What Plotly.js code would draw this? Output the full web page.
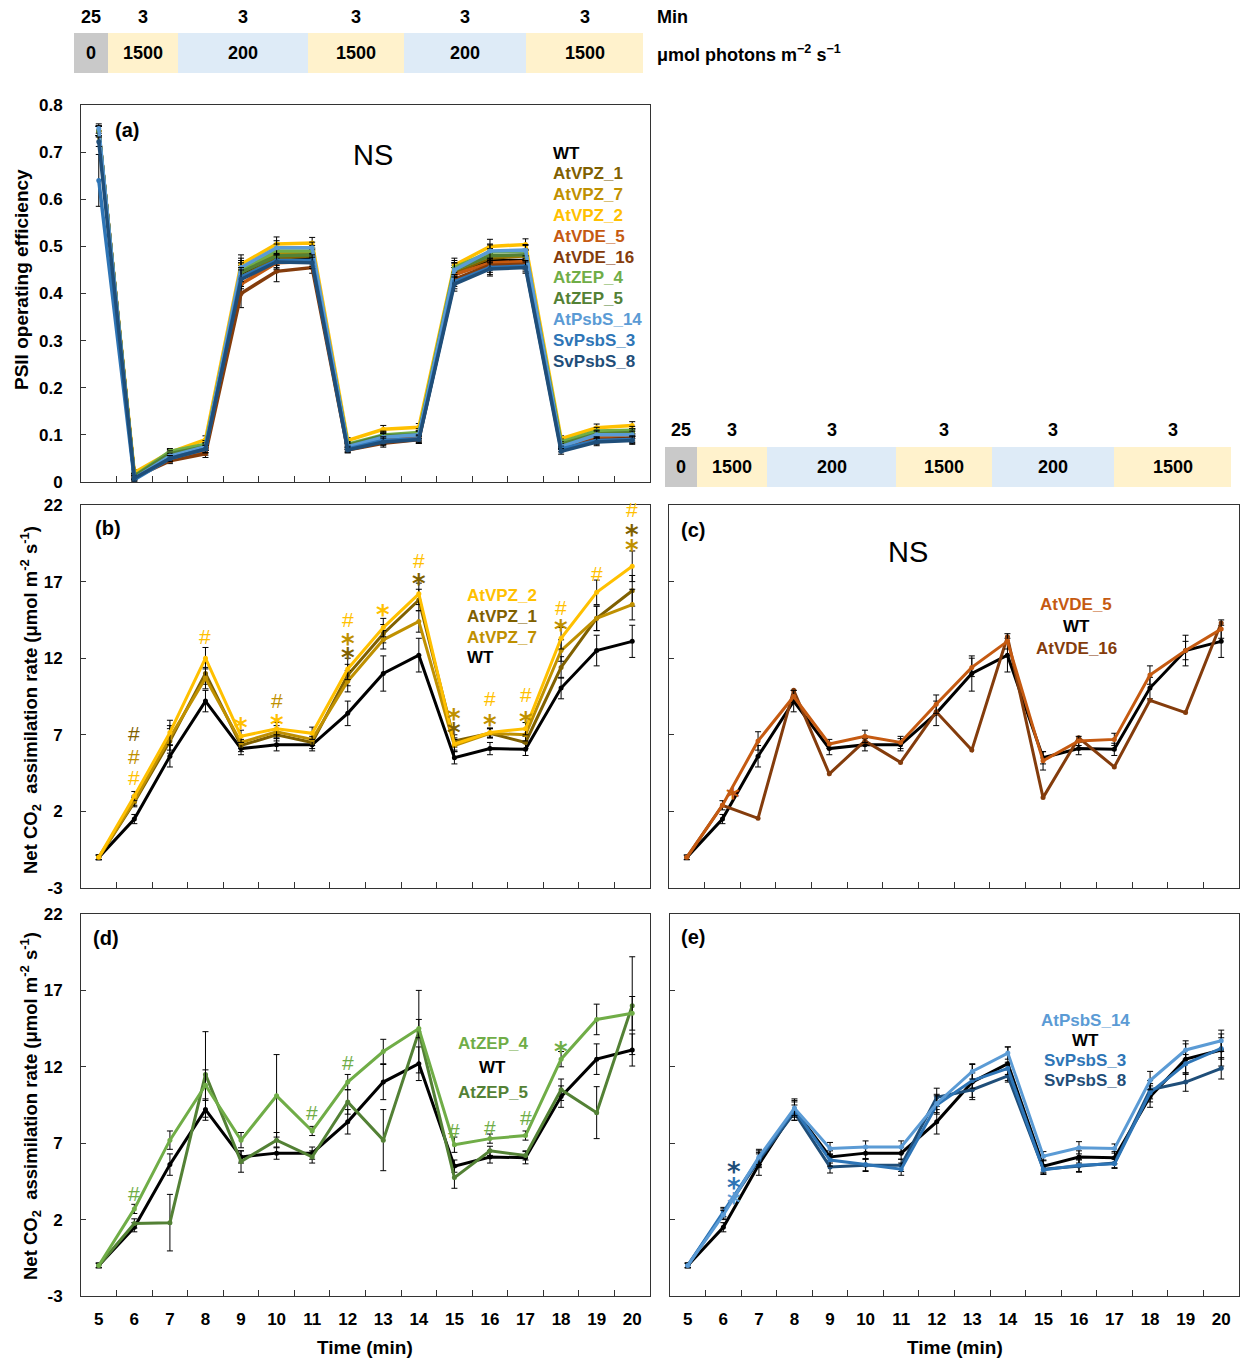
<!DOCTYPE html>
<html><head><meta charset="utf-8">
<script src="https://cdn.plot.ly/plotly-3.0.1.min.js"></script>
<style>html,body{margin:0;padding:0;background:#fff}#chart{width:1245px;height:1363px}</style>
</head><body><div id="chart"></div>
<script>
// ---------------- DATA ----------------
const timeMin = [5,6,7,8,9,10,11,12,13,14,15,16,17,18,19,20];

// Header (light regime)
const headerMinutes = ['25','3','3','3','3','3'];
const headerIntensity = ['0','1500','200','1500','200','1500'];
const headerKind = ['dark','high','low','high','low','high'];

// Panel (a) PSII operating efficiency
const psii_WT        = [0.745,0.012,0.050,0.070,0.440,0.475,0.475,0.075,0.090,0.095,0.440,0.470,0.470,0.075,0.095,0.095];
const psii_AtVPZ_1   = [0.745,0.012,0.055,0.075,0.435,0.475,0.480,0.075,0.095,0.100,0.445,0.475,0.480,0.080,0.100,0.105];
const psii_AtVPZ_7   = [0.745,0.015,0.058,0.078,0.445,0.485,0.485,0.078,0.098,0.100,0.450,0.480,0.480,0.082,0.102,0.105];
const psii_AtVPZ_2   = [0.745,0.020,0.063,0.090,0.462,0.505,0.507,0.088,0.112,0.116,0.460,0.500,0.504,0.092,0.115,0.120];
const psii_AtVDE_5   = [0.745,0.012,0.048,0.065,0.420,0.465,0.468,0.072,0.088,0.095,0.440,0.465,0.468,0.078,0.095,0.100];
const psii_AtVDE_16  = [0.745,0.010,0.045,0.060,0.400,0.447,0.455,0.068,0.082,0.090,0.430,0.460,0.462,0.075,0.090,0.092];
const psii_AtZEP_4   = [0.745,0.013,0.065,0.080,0.450,0.490,0.490,0.080,0.100,0.105,0.455,0.488,0.490,0.085,0.108,0.110];
const psii_AtZEP_5   = [0.745,0.012,0.060,0.075,0.445,0.480,0.482,0.078,0.098,0.100,0.450,0.480,0.482,0.080,0.102,0.105];
const psii_AtPsbS_14 = [0.750,0.008,0.055,0.075,0.455,0.497,0.497,0.075,0.095,0.100,0.450,0.490,0.492,0.075,0.100,0.100];
const psii_SvPsbS_3  = [0.640,0.005,0.050,0.070,0.435,0.470,0.470,0.070,0.088,0.092,0.425,0.455,0.458,0.070,0.088,0.090];
const psii_SvPsbS_8  = [0.722,0.008,0.050,0.070,0.430,0.467,0.465,0.068,0.085,0.090,0.420,0.452,0.455,0.065,0.085,0.088];
const psii_err_common = [0.010,0.006,0.006,0.008,0.020,0.015,0.012,0.006,0.008,0.008,0.015,0.015,0.012,0.006,0.008,0.008];
const psii_err_AtVDE_16 = [0.010,0.006,0.006,0.008,0.030,0.022,0.012,0.006,0.008,0.008,0.015,0.015,0.012,0.006,0.008,0.008];
const psii_err_SvPsbS_3 = [0.055,0.006,0.006,0.008,0.020,0.015,0.012,0.006,0.008,0.008,0.015,0.015,0.012,0.006,0.008,0.008];

// Net CO2 assimilation (panels b–e)
const co2_WT       = [-1.0,1.5,5.6,9.2,6.1,6.35,6.35,8.4,11.0,12.2,5.5,6.1,6.05,10.05,12.5,13.1];
const co2_WT_err   = [0.15,0.3,0.7,0.7,0.4,0.4,0.4,0.8,1.15,1.1,0.4,0.4,0.4,0.7,1.0,1.05];
const co2_AtVPZ_2  = [-1.0,3.0,7.15,12.0,6.9,7.4,7.1,11.3,14.0,16.2,6.4,7.15,7.4,13.3,16.3,18.0];
const co2_AtVPZ_1  = [-1.0,2.6,6.6,11.0,6.3,7.0,6.5,10.9,13.6,15.8,6.6,7.1,6.5,11.4,14.6,16.4];
const co2_AtVPZ_7  = [-1.0,2.7,6.8,10.7,6.5,7.2,6.7,10.5,13.2,14.4,6.3,7.1,7.0,12.5,14.6,15.5];
const co2_AtVPZ_err = [0.15,0.3,0.8,0.7,0.4,0.4,0.4,0.7,0.6,0.7,0.4,0.3,0.4,0.7,0.8,1.0];
const co2_AtVDE_5  = [-1.0,2.4,6.6,9.5,6.4,6.9,6.5,9.0,11.4,13.1,5.3,6.6,6.7,10.9,12.5,13.9];
const co2_AtVDE_5_err = [0.15,0.3,0.6,0.4,0.3,0.4,0.4,0.6,0.6,0.5,0.6,0.3,0.4,0.6,0.6,0.6];
const co2_AtVDE_16 = [-1.0,2.4,1.55,9.9,4.45,6.6,5.2,8.5,6.0,13.4,2.9,6.8,4.9,9.25,8.45,14.3];
const co2_AtZEP_4  = [-1.0,2.7,7.2,10.8,7.2,10.1,7.8,11.0,13.0,14.5,6.9,7.3,7.5,12.5,15.1,15.5];
const co2_AtZEP_4_err = [0.15,0.3,0.6,1.0,0.5,2.7,0.3,0.5,0.8,0.6,0.5,0.3,0.3,0.5,1.0,1.1];
const co2_AtZEP_5  = [-1.0,1.75,1.8,11.5,5.8,7.2,6.1,9.7,7.2,14.3,4.75,6.5,6.2,10.5,9.0,16.0];
const co2_AtZEP_5_err = [0.15,0.3,1.85,2.8,0.7,0.5,0.4,0.8,2.0,2.7,0.7,0.3,0.3,0.7,1.7,3.2];
const co2_AtPsbS_14 = [-1.0,2.3,6.1,9.3,6.65,6.75,6.75,9.6,11.7,12.9,6.15,6.7,6.65,11.1,13.1,13.7];
const co2_SvPsbS_3  = [-1.0,2.5,6.0,9.2,5.9,5.6,5.3,9.5,11.1,11.9,5.25,5.55,5.65,10.3,12.2,13.2];
const co2_SvPsbS_8  = [-1.0,2.4,5.9,9.0,5.45,5.55,5.55,10.0,10.5,11.4,5.3,5.5,5.7,10.5,11.0,11.9];
const co2_PsbS_err  = [0.15,0.3,0.5,0.5,0.4,0.4,0.4,0.6,0.5,0.4,0.3,0.4,0.3,0.6,0.6,0.7];

// Significance marks
const sigB_x = [6,6,6,8,9,10,10,12,12,12,13,14,14,15,15,16,16,17,17,18,18,19,20,20,20];
const sigB_y = [7.1,5.6,4.2,13.4,7.9,9.25,8.1,14.5,13.4,12.5,15.3,18.4,17.3,8.5,7.6,9.4,8.1,9.6,8.3,15.3,14.3,17.5,21.7,20.5,19.5];
const sigB_txt = ['#','#','#','#','*','#','*','#','*','*','*','#','*','*','*','#','*','#','*','#','*','#','#','*','*'];
const sigB_ser = ['AtVPZ_1','AtVPZ_7','AtVPZ_2','AtVPZ_2','AtVPZ_2','AtVPZ_7','AtVPZ_2','AtVPZ_2','AtVPZ_7','AtVPZ_1','AtVPZ_2','AtVPZ_2','AtVPZ_1','AtVPZ_7','AtVPZ_1','AtVPZ_2','AtVPZ_7','AtVPZ_2','AtVPZ_7','AtVPZ_2','AtVPZ_7','AtVPZ_2','AtVPZ_2','AtVPZ_1','AtVPZ_7'];
const sigC_x = [6.3];
const sigC_y = [3.3];
const sigC_txt = ['*'];
const sigC_ser = ['AtVDE_5'];
const sigD_x = [6,11,12,15,16,17,18];
const sigD_y = [3.7,9.0,12.25,7.85,8.05,8.65,13.4];
const sigD_txt = ['#','#','#','#','#','#','*'];
const sigD_ser = ['AtZEP_4','AtZEP_4','AtZEP_4','AtZEP_4','AtZEP_4','AtZEP_4','AtZEP_4'];
const sigE_x = [6.3,6.3,6.3];
const sigE_y = [5.6,4.5,3.55];
const sigE_txt = ['*','*','*'];
const sigE_ser = ['SvPsbS_8','SvPsbS_3','AtPsbS_14'];

// Tick labels
const psiiTicks = [0,0.1,0.2,0.3,0.4,0.5,0.6,0.7,0.8];
const co2Ticks = [-3,2,7,12,17,22];

// ---------------- STYLE ----------------
const COL = {
  WT:'#000000', AtVPZ_1:'#7F6000', AtVPZ_7:'#BF9000', AtVPZ_2:'#FFC000',
  AtVDE_5:'#C55A11', AtVDE_16:'#843C0C', AtZEP_4:'#70AD47', AtZEP_5:'#538135',
  AtPsbS_14:'#5B9BD5', SvPsbS_3:'#2E75B6', SvPsbS_8:'#1F4E79'
};
const HDR = {dark:'#C9C9C9', high:'#FFF2CC', low:'#DEEBF7'};
const FONT = 'Liberation Sans, Arial, Helvetica, sans-serif';
const STARFONT = 'DejaVu Sans, Liberation Sans, sans-serif';
const W = 1245, H = 1363;
const px = x => x / W, py = y => 1 - y / H;

const boxes = {
  a: {l:81, r:650, t:105, b:482},
  b: {l:81, r:650, t:505, b:888},
  c: {l:669, r:1239, t:505, b:888},
  d: {l:81, r:650, t:914, b:1296},
  e: {l:670, r:1239, t:914, b:1296}
};
const boundaries = timeMin.slice(0, -1).map(t => t + 0.5);

function xAxis(box, yId, showLabels) {
  return {
    domain:[px(box.l), px(box.r)], anchor:yId, range:[timeMin[0]-0.5, timeMin[timeMin.length-1]+0.5],
    tickmode:'array', tickvals:timeMin, ticktext:timeMin.map(String), ticks:'',
    showticklabels:showLabels, tickfont:{family:FONT, size:17, color:'#000', weight:'bold'},
    ticklabelstandoff:8,
    minor:{tickmode:'array', tickvals:boundaries, ticks:'inside', ticklen:6, tickwidth:1, tickcolor:'#333', showgrid:false},
    showline:true, mirror:true, linecolor:'#333', linewidth:1, showgrid:false, zeroline:false, fixedrange:true
  };
}
function yAxis(box, xId, range, ticks, showLabels) {
  return {
    domain:[py(box.b), py(box.t)], anchor:xId, range:range,
    tickmode:'array', tickvals:ticks, ticktext:ticks.map(String), ticks:'inside', ticklen:5, tickcolor:'#333',
    showticklabels:showLabels, tickfont:{family:FONT, size:17, color:'#000', weight:'bold'},
    ticklabelstandoff:14,
    showline:true, mirror:true, linecolor:'#333', linewidth:1, showgrid:false, zeroline:false, fixedrange:true
  };
}

function tr(xa, ya, y, err, name, lw) {
  const c = COL[name];
  return {
    type:'scatter', mode:'lines+markers', x:timeMin, y:y, xaxis:xa, yaxis:ya, name:name,
    line:{color:c, width:lw}, marker:{color:c, size:5},
    error_y: err ? {type:'data', array:err, visible:true, color:'#000', thickness:1, width:3} : {visible:false},
    showlegend:false, hoverinfo:'skip'
  };
}

const traces = [
  // (a)
  tr('x','y',psii_WT,psii_err_common,'WT',3.5),
  tr('x','y',psii_AtVPZ_1,psii_err_common,'AtVPZ_1',3.5),
  tr('x','y',psii_AtVPZ_7,psii_err_common,'AtVPZ_7',3.5),
  tr('x','y',psii_AtVPZ_2,psii_err_common,'AtVPZ_2',3.5),
  tr('x','y',psii_AtVDE_5,psii_err_common,'AtVDE_5',3.5),
  tr('x','y',psii_AtVDE_16,psii_err_AtVDE_16,'AtVDE_16',3.5),
  tr('x','y',psii_AtZEP_4,psii_err_common,'AtZEP_4',3.5),
  tr('x','y',psii_AtZEP_5,psii_err_common,'AtZEP_5',3.5),
  tr('x','y',psii_AtPsbS_14,psii_err_common,'AtPsbS_14',3.5),
  tr('x','y',psii_SvPsbS_3,psii_err_SvPsbS_3,'SvPsbS_3',3.5),
  tr('x','y',psii_SvPsbS_8,psii_err_common,'SvPsbS_8',3.5),
  // (b)
  tr('x2','y2',co2_WT,co2_WT_err,'WT',3),
  tr('x2','y2',co2_AtVPZ_1,co2_AtVPZ_err,'AtVPZ_1',3),
  tr('x2','y2',co2_AtVPZ_7,co2_AtVPZ_err,'AtVPZ_7',3),
  tr('x2','y2',co2_AtVPZ_2,co2_AtVPZ_err,'AtVPZ_2',3),
  // (c)
  tr('x3','y3',co2_WT,co2_WT_err,'WT',3),
  tr('x3','y3',co2_AtVDE_16,null,'AtVDE_16',3),
  tr('x3','y3',co2_AtVDE_5,co2_AtVDE_5_err,'AtVDE_5',3),
  // (d)
  tr('x4','y4',co2_WT,co2_WT_err,'WT',3),
  tr('x4','y4',co2_AtZEP_5,co2_AtZEP_5_err,'AtZEP_5',3),
  tr('x4','y4',co2_AtZEP_4,co2_AtZEP_4_err,'AtZEP_4',3),
  // (e)
  tr('x5','y5',co2_WT,co2_WT_err,'WT',3),
  tr('x5','y5',co2_SvPsbS_8,co2_PsbS_err,'SvPsbS_8',3),
  tr('x5','y5',co2_SvPsbS_3,co2_PsbS_err,'SvPsbS_3',3),
  tr('x5','y5',co2_AtPsbS_14,co2_PsbS_err,'AtPsbS_14',3)
];

// ---------------- ANNOTATIONS / SHAPES ----------------
const ann = [];
const shapes = [];
function txt(x, y, text, size, opts) {
  ann.push(Object.assign({xref:'paper', yref:'paper', x:px(x), y:py(y), text:text, showarrow:false,
    xanchor:'center', yanchor:'middle', font:{family:FONT, size:size, color:'#000', weight:'bold'}}, opts || {}));
}

// headers
function header(bounds, yTop, yBot, yMin, showUnits) {
  headerKind.forEach((k, i) => {
    shapes.push({type:'rect', xref:'paper', yref:'paper', x0:px(bounds[i]), x1:px(bounds[i+1]), y0:py(yBot), y1:py(yTop),
      fillcolor:HDR[k], line:{width:0}, layer:'below'});
    const cx = (bounds[i] + bounds[i+1]) / 2;
    txt(cx, yMin, headerMinutes[i], 18);
    txt(cx, (yTop + yBot) / 2, headerIntensity[i], 18);
  });
  if (showUnits) {
    txt(bounds[bounds.length-1] + 12, yMin, 'Min', 18, {xanchor:'left'});
    txt(bounds[bounds.length-1] + 12, (yTop + yBot) / 2, 'μmol photons m<sup>−2</sup> s<sup>−1</sup>', 18, {xanchor:'left'});
  }
}
header([74,108,178,308,404,526,643], 33, 73, 17, true);
header([665,697,767,896,992,1114,1231], 447, 487, 430, false);

// panel letters and NS
txt(113, 130, '(a)', 20, {xanchor:'left'});
txt(93, 528, '(b)', 20, {xanchor:'left'});
txt(679, 530, '(c)', 20, {xanchor:'left'});
txt(91, 938, '(d)', 20, {xanchor:'left'});
txt(679, 937, '(e)', 20, {xanchor:'left'});
txt(373, 155, 'NS', 29, {font:{family:FONT, size:29, color:'#000'}});
txt(908, 552, 'NS', 29, {font:{family:FONT, size:29, color:'#000'}});

// legends (text only)
function legendFont(n) { return {family:FONT, size:17, color:COL[n], weight:'bold'}; }
const legA = ['WT','AtVPZ_1','AtVPZ_7','AtVPZ_2','AtVDE_5','AtVDE_16','AtZEP_4','AtZEP_5','AtPsbS_14','SvPsbS_3','SvPsbS_8'];
legA.forEach((n, i) => txt(551, 153 + i * 20.8, n, 17, {xanchor:'left', font:legendFont(n)}));
const legB = ['AtVPZ_2','AtVPZ_1','AtVPZ_7','WT'];
legB.forEach((n, i) => txt(465, 596 + i * 20.5, n, 17, {xanchor:'left', font:legendFont(n)}));
const legC = ['AtVDE_5','WT','AtVDE_16'];
legC.forEach((n, i) => txt(1076, 604 + i * 22, n, 17, {font:legendFont(n)}));
const legD = ['AtZEP_4','WT','AtZEP_5'];
legD.forEach((n, i) => txt(493, 1043 + i * 24.5, n, 17, {font:legendFont(n)}));
const legE = ['AtPsbS_14','WT','SvPsbS_3','SvPsbS_8'];
legE.forEach((n, i) => txt(1085, 1020 + i * 20, n, 17, {font:legendFont(n)}));

// significance marks (data coordinates)
function sig(xs, ys, ts, ss, xr, yr) {
  xs.forEach((x, i) => {
    const star = ts[i] === '*';
    ann.push({xref:xr, yref:yr, x:x, y:ys[i], text:ts[i], showarrow:false, xanchor:'center', yanchor:'middle',
      yshift: star ? -7 : 0,
      font: star ? {family:STARFONT, size:26, color:COL[ss[i]], weight:'bold'}
                 : {family:FONT, size:21, color:COL[ss[i]]}});
  });
}
sig(sigB_x, sigB_y, sigB_txt, sigB_ser, 'x2', 'y2');
sig(sigC_x, sigC_y, sigC_txt, sigC_ser, 'x3', 'y3');
sig(sigD_x, sigD_y, sigD_txt, sigD_ser, 'x4', 'y4');
sig(sigE_x, sigE_y, sigE_txt, sigE_ser, 'x5', 'y5');

// axis titles
txt(21, 280, 'PSII operating efficiency', 19, {textangle:-90});
const co2Title = 'Net CO<sub>2</sub>  assimilation rate (μmol m<sup>-2</sup> s<sup>-1</sup>)';
txt(30, 700, co2Title, 18.5, {textangle:-90});
txt(30, 1106, co2Title, 18.5, {textangle:-90});
txt(365, 1347, 'Time (min)', 19);
txt(955, 1347, 'Time (min)', 19);

const layout = {
  width:W, height:H, margin:{l:0, r:0, t:0, b:0}, paper_bgcolor:'#fff', plot_bgcolor:'#fff',
  showlegend:false, font:{family:FONT, color:'#000'},
  xaxis: xAxis(boxes.a, 'y', false),
  yaxis: yAxis(boxes.a, 'x', [0, 0.8], psiiTicks, true),
  xaxis2: xAxis(boxes.b, 'y2', false),
  yaxis2: yAxis(boxes.b, 'x2', [-3, 22], co2Ticks, true),
  xaxis3: xAxis(boxes.c, 'y3', false),
  yaxis3: yAxis(boxes.c, 'x3', [-3, 22], co2Ticks, false),
  xaxis4: xAxis(boxes.d, 'y4', true),
  yaxis4: yAxis(boxes.d, 'x4', [-3, 22], co2Ticks, true),
  xaxis5: xAxis(boxes.e, 'y5', true),
  yaxis5: yAxis(boxes.e, 'x5', [-3, 22], co2Ticks, false),
  annotations: ann, shapes: shapes
};
Plotly.newPlot('chart', traces, layout, {staticPlot:true, displayModeBar:false});
</script></body></html>
